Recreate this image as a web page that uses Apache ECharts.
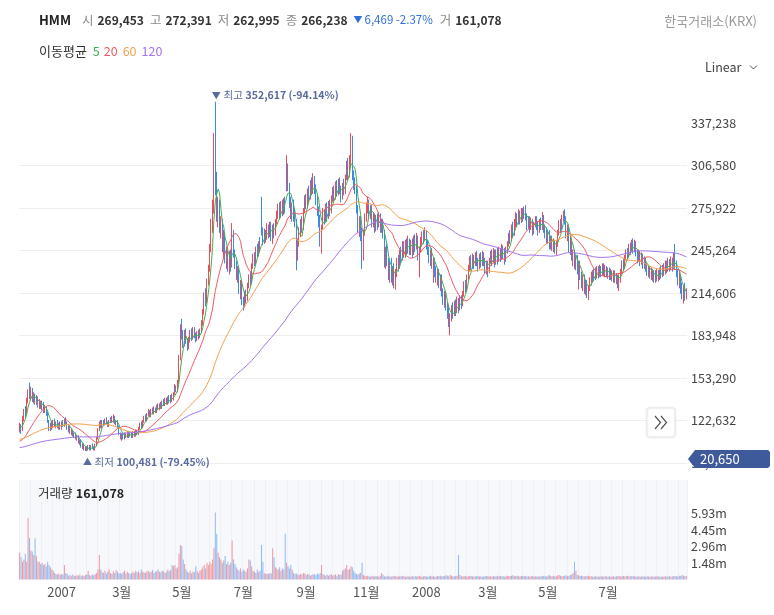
<!DOCTYPE html>
<html>
<head>
<meta charset="utf-8">
<script src="https://cdn.jsdelivr.net/npm/echarts@6/dist/echarts.min.js"></script>
<style>
html, body { margin: 0; padding: 0; background: #fff; }
#chart { width: 774px; height: 615px; }
</style>
</head>
<body>
<div id="chart"></div>
<script>
// daily candles in thousands of KRW: [open, close, low, high]
const candles = [
  [117,119,114,121],[119,116,113,120],[116,124,115,126],[124,130,122,131],[130,128,125,133],[128,137,127,139],[137,143,135,145],[143,140,138,150],[140,144,137,147],[144,138,136,146],
  [138,141,135,143],[141,136,134,142],[136,139,134,141],[139,134,132,140],[134,136,131,138],[136,133,131,137],[133,135,130,137],[135,130,128,136],[130,132,128,134],[132,128,126,133],
  [128,122,121,129],[122,117,115,123],[117,120,115,121],[120,118,116,122],[118,122,117,123],[122,119,118,124],[119,121,117,122],[121,118,117,123],[118,120,116,121],[120,117,116,122],
  [117,121,116,122],[121,119,118,123],[119,123,118,124],[123,121,120,125],[121,117,116,122],[117,118,114,119],[118,114,113,119],[114,115,112,117],[115,112,111,116],[112,113,110,114],
  [113,110,109,114],[110,111,108,112],[111,107,106,112],[107,108,105,109],[108,104,103,109],[104,105,102,106],[105,102,101,106],[102,103,100.481,104],[103,101,100.6,104],[101,104,101,105],
  [104,102,101,105],[102,104,101,105],[104,103,102,106],[103,101,101,104],[101,105,101,106],[105,110,104,111],[110,116,109,117],[116,121,115,122],[121,118,117,123],[118,122,117,123],
  [122,120,119,123],[120,123,119,124],[123,121,120,125],[121,119,118,122],[119,122,118,123],[122,124,121,125],[124,122,121,126],[122,125,121,127],[125,121,120,126],[121,122,119,123],
  [122,118,117,123],[118,113,112,119],[113,110,109,114],[110,112,108,113],[112,110,109,114],[110,113,109,114],[113,111,110,114],[111,114,110,115],[114,112,110,115],[112,113,111,114],
  [113,111,110,114],[111,114,110,115],[114,112,111,115],[112,115,111,116],[115,113,112,116],[113,117,112,118],[117,120,116,121],[120,118,117,122],[118,122,117,123],[122,125,121,126],
  [125,123,122,127],[123,127,122,128],[127,129,126,131],[129,126,125,130],[126,130,125,131],[130,128,127,132],[128,131,127,133],[131,129,128,132],[129,133,128,134],[133,131,130,135],
  [131,134,130,135],[134,132,131,136],[132,136,131,137],[136,134,133,138],[134,137,133,139],[137,135,134,139],[135,139,134,140],[139,136,135,141],[136,140,135,141],[140,138,136,142],
  [138,142,137,143],[142,147,141,149],[147,144,143,148],[144,150,143,152],[150,168,149,170],[168,190,166,192],[190,184,181,196],[184,178,175,188],[178,186,176,188],[186,180,178,189],
  [180,175,173,182],[175,181,174,183],[181,186,179,188],[186,182,180,189],[182,188,181,190],[188,184,182,190],[184,181,179,186],[181,185,180,187],[185,183,181,188],[183,187,182,189],
  [187,193,186,195],[193,200,191,203],[200,212,199,215],[212,208,205,218],[208,222,207,225],[222,232,220,235],[232,246,230,250],[246,262,244,268],[262,276,258,282],[276,322,272,330],
  [322,298,285,352.617],[298,272,266,302],[272,280,262,284],[280,262,258,282],[262,266,254,270],[266,248,244,268],[248,256,240,260],[256,240,236,258],[240,244,232,248],[244,236,230,246],
  [236,242,228,245],[242,234,230,246],[234,258,233,265],[258,244,240,260],[244,236,232,246],[236,228,224,238],[228,232,222,234],[232,218,214,233],[218,222,210,224],[222,210,206,224],
  [210,206,202,212],[206,214,204,216],[214,210,207,217],[210,220,209,222],[220,226,218,228],[226,222,220,230],[222,234,221,236],[234,240,232,243],[240,236,234,244],[236,246,235,248],
  [246,242,240,250],[242,250,241,252],[250,247,244,255],[282,260,256,284],[260,252,249,262],[252,258,250,261],[258,254,251,260],[254,262,253,265],[262,256,254,264],[256,264,255,266],
  [264,256,252,266],[256,262,250,264],[262,258,254,265],[258,266,256,268],[266,270,264,274],[270,276,268,279],[276,271,268,280],[271,278,269,281],[278,273,270,282],[273,280,271,283],
  [280,276,272,284],[289,312,288,314],[306,292,288,308],[292,280,276,294],[280,272,268,284],[272,278,266,280],[278,270,266,282],[270,266,262,276],[266,240,231,268],[240,252,238,254],
  [252,258,248,262],[258,266,255,268],[266,262,258,270],[262,274,260,276],[274,282,272,285],[282,278,275,286],[278,288,276,290],[288,284,280,292],[284,293,282,296],[293,288,285,298],
  [288,296,286,301],[296,290,286,299],[290,282,278,293],[282,274,270,285],[274,268,262,277],[268,250,248,271],[248,262,243,264],[262,272,260,276],[272,268,264,275],[268,276,266,279],
  [276,270,266,280],[270,278,268,281],[278,274,270,282],[274,282,272,285],[282,288,280,291],[288,284,281,292],[284,292,282,295],[292,287,284,296],[287,294,285,297],[294,289,286,298],
  [289,284,280,292],[284,292,282,294],[292,288,285,297],[288,298,286,300],[298,306,296,310],[306,300,296,312],[300,310,298,314],[310,326,306,330],[326,300,296,328],[300,294,289,303],
  [294,290,286,298],[290,276,272,292],[276,262,258,278],[262,268,255,270],[268,260,252,270],[260,240,232,262],[240,258,238,260],[258,270,256,272],[270,276,266,280],[276,280,272,284],
  [280,272,268,282],[272,276,268,278],[276,266,262,278],[266,270,262,273],[270,262,258,272],[262,268,259,271],[268,264,260,272],[264,270,262,273],[270,262,258,272],[262,266,258,268],
  [266,258,254,268],[258,236,233,260],[236,246,232,248],[246,238,234,250],[238,228,224,240],[228,236,222,238],[236,226,222,240],[226,232,220,234],[232,224,218,236],[224,230,217,232],
  [230,238,226,240],[238,234,230,242],[234,244,232,246],[244,240,236,248],[240,248,238,252],[248,244,240,252],[244,250,240,253],[250,246,242,254],[246,252,243,256],[252,246,242,254],
  [246,250,242,253],[250,244,240,254],[244,252,242,256],[252,248,244,257],[248,254,246,258],[254,240,238,256],[234,246,226,248],[246,252,244,255],[252,256,248,259],[256,254,250,260],
  [254,258,252,262],[258,250,246,260],[250,246,242,253],[246,240,236,248],[240,244,234,246],[244,236,232,247],[228,238,222,240],[238,230,226,240],[230,226,222,234],[226,230,220,232],
  [230,222,218,232],[222,226,216,228],[226,216,212,228],[216,210,206,218],[210,214,204,216],[214,206,202,216],[206,200,196,208],[200,192,190,206],[188,198,184,200],[198,204,194,206],
  [204,200,196,208],[200,206,198,209],[206,202,198,210],[202,208,200,212],[208,204,200,211],[204,210,202,213],[210,206,203,213],[206,214,205,216],[214,220,212,223],[220,218,215,224],
  [218,226,216,228],[226,232,224,235],[232,238,230,241],[238,234,231,242],[234,240,232,243],[240,236,232,242],[236,242,234,244],[242,238,234,245],[238,234,230,240],[234,240,232,243],
  [240,236,233,244],[236,242,234,245],[242,238,234,244],[238,232,229,240],[232,236,228,238],[236,230,226,238],[230,238,229,240],[238,242,236,245],[242,238,234,246],[238,244,236,247],
  [244,237,233,246],[237,243,235,246],[243,239,235,247],[239,245,237,248],[245,241,237,247],[241,247,239,250],[247,243,239,249],[243,239,235,247],[239,245,237,248],[245,249,243,252],
  [249,256,248,258],[256,254,250,260],[254,262,252,264],[262,258,255,266],[258,264,256,268],[264,270,262,273],[270,266,262,272],[266,272,264,275],[272,268,264,274],[268,273,265,276],
  [273,270,266,276],[270,274,268,277],[274,271,267,278],[271,264,260,272],[264,268,261,270],[268,262,258,270],[262,266,260,269],[266,260,256,268],[260,264,257,266],[264,268,262,270],
  [268,264,260,270],[264,260,256,266],[260,266,258,268],[266,262,260,269],[262,270,260,273],[270,262,258,271],[262,258,254,264],[258,254,250,262],[254,258,250,260],[258,250,246,260],
  [250,254,246,256],[254,248,245,256],[248,252,244,254],[252,246,243,253],[246,250,242,252],[250,258,248,260],[258,264,256,267],[264,262,258,268],[262,268,260,271],[268,272,266,274],
  [272,268,264,275],[268,258,254,270],[258,262,252,264],[262,248,244,264],[248,252,242,256],[252,240,238,254],[240,244,234,246],[244,236,232,246],[236,240,231,242],[240,232,228,242],
  [224,236,217,238],[236,228,224,238],[228,222,218,230],[222,226,216,228],[226,218,214,228],[218,222,213,224],[222,214,211,224],[214,218,209.5,220],[218,224,216,226],[224,228,220,230],
  [228,226,222,231],[226,230,223,232],[230,227,224,233],[227,231,225,234],[231,228,225,234],[228,232,226,235],[232,229,226,234],[229,233,227,236],[233,230,227,236],[230,232,226,235],
  [232,229,226,234],[229,231,225,233],[231,227,224,233],[227,230,224,232],[230,226,223,231],[226,229,222,231],[229,225,222,231],[225,227,221,229],[227,222,218,228],[222,226,216,228],
  [226,230,222,232],[230,236,228,238],[236,234,231,239],[234,240,232,242],[240,244,238,246],[244,242,239,247],[242,248,240,250],[248,246,242,251],[246,250,244,253],[250,246,243,254],
  [246,250,244,253],[250,244,241,252],[244,240,236,246],[240,244,237,246],[244,238,234,245],[238,242,235,244],[242,236,232,243],[236,238,232,241],[238,234,230,240],[234,230,227,236],
  [230,233,226,235],[233,228,225,234],[228,231,224,233],[231,226,223,232],[226,229,222,231],[229,225,222,231],[225,230,223,232],[230,226,223,231],[226,231,224,233],[231,228,225,234],
  [228,233,226,235],[233,230,227,236],[230,236,228,238],[236,232,229,238],[232,237,230,240],[237,233,230,239],[233,238,231,241],[238,234,230,240],[234,240,232,244],[240,236,232,250],
  [236,230,226,238],[230,224,220,232],[224,226,218,230],[226,218,214,228],[218,214,210,222],[214,218,207,220],[218,212,209,222],[212,215,210,218]
]

// daily volume, unit: 10k shares
const volumes = [
  240,200,160,180,230,160,550,370,260,250, 220,370,210,160,160,140,150,130,140,120,
  160,130,110,90,80,60,50,45,55,40, 50,45,130,60,50,35,40,30,45,35,
  30,40,35,45,30,38,32,40,45,80, 40,35,45,38,50,60,90,220,90,70,
  60,80,55,70,90,60,50,75,60,85, 70,55,60,50,65,80,55,70,60,50,
  55,70,60,80,65,75,60,90,70,65, 60,75,80,65,70,85,60,70,75,90,
  70,65,80,75,60,70,90,75,85,130, 120,130,100,110,230,310,300,180,140,90,
  70,60,80,55,70,65,120,75,60,80, 90,110,130,100,150,130,160,140,180,280,
  600,410,240,200,180,150,170,210,140,160, 130,150,350,180,140,110,90,80,100,70,
  90,80,70,100,180,170,120,80,70,60, 90,70,80,310,160,60,50,55,50,60,
  55,280,200,110,100,90,110,80,100,90, 410,150,120,100,130,90,60,50,55,45,
  40,50,45,60,55,40,50,45,35,40, 50,45,40,55,45,60,130,50,40,35,
  45,35,40,50,35,40,45,30,50,40, 45,80,90,100,130,85,95,120,110,80,
  60,50,45,55,60,150,40,35,30,35, 30,25,35,30,28,32,30,25,35,60,
  40,30,25,35,28,30,25,30,35,28, 30,25,32,28,35,30,25,28,30,26,
  28,30,25,32,27,30,35,28,25,30, 32,28,25,30,35,28,30,25,28,32,
  30,35,28,32,30,38,35,30,42,35, 30,28,32,35,220,40,30,28,32,30,
  28,30,35,32,28,30,25,32,30,28, 30,25,28,32,30,35,28,30,25,32,
  30,28,35,30,32,28,30,25,30,35, 32,30,35,38,30,32,35,30,28,32,
  35,30,32,28,30,25,32,30,28,30, 28,30,25,32,30,35,30,28,35,40,
  32,30,35,28,30,38,40,35,30,32, 35,38,30,32,40,45,60,160,80,40,
  38,32,35,30,28,32,30,35,28,30, 25,28,30,26,28,25,30,28,26,30,
  28,25,30,26,28,30,25,28,32,30, 28,30,32,28,30,35,30,28,32,30,
  30,28,26,30,28,25,30,28,26,30, 28,26,30,25,28,26,30,28,25,28,
  26,28,30,25,28,30,26,28,32,30, 30,28,35,32,40,35,30,32
]

const firstDay = [2006, 10, 20]
const maPeriods = [5, 20, 60, 120]
// level of each average just before the first visible day (thousands)
const maSeeds = [117, 107, 109, 103]
const maColors = ['#43ad4d', '#ef5b63', '#f2a14d', '#a374ec']
const priceStep = 30658
const volStep = 1482000
const upColor = '#ea4d59'
const downColor = '#3b8aea'
const font = "'Noto Sans CJK KR', 'Noto Sans', sans-serif"

const dates = []
let d = new Date(Date.UTC(firstDay[0], firstDay[1], firstDay[2]))
while (dates.length < candles.length) {
    const wd = d.getUTCDay()
    if (wd !== 0 && wd !== 6) dates.push(d.toISOString().slice(0, 10))
    d = new Date(d.getTime() + 86400000)
}

function calcMA (n, seed) {
    const out = []
    for (let i = 0; i < candles.length; i++) {
        let sum = 0
        for (let j = i - n + 1; j <= i; j++) sum += j < 0 ? seed : candles[j][1]
        out.push(Math.round(sum / n * 1000))
    }
    return out
}

function showMonth (i) {
    if (i === 0 || i > 460) return false
    const m = +dates[i].slice(5, 7)
    return m !== +dates[i - 1].slice(5, 7) && m % 2 === 1
}

const kData = candles.map(c => c.map(v => Math.round(v * 1000)))
const volData = volumes.map((v, i) => ({
    value: v * 10000,
    itemStyle: { color: candles[i][1] >= candles[i][0] ? 'rgba(234,77,89,0.55)' : 'rgba(59,138,234,0.55)' }
}))

const maSeries = maPeriods.map((n, k) => ({
    name: 'MA' + n,
    type: 'line',
    data: calcMA(n, maSeeds[k]),
    showSymbol: false,
    silent: true,
    z: 3,
    lineStyle: { width: 1, color: maColors[k] },
    itemStyle: { color: maColors[k] }
}))

const splitColors = ['rgba(0,0,0,0)']
for (let i = 1; i <= 8; i++) splitColors.push('#efefef')
splitColors.push('rgba(0,0,0,0)', 'rgba(0,0,0,0)')

const markLabel = {
    show: true,
    color: '#5a6a9c',
    fontFamily: font,
    align: 'left',
    verticalAlign: 'middle',
    rich: {
        t: { fontSize: 9, color: '#5a6a9c', fontFamily: font },
        k: { fontSize: 10.5, color: '#5a6a9c', fontFamily: font },
        v: { fontSize: 10.5, fontWeight: 'bold', color: '#5a6a9c', fontFamily: font }
    }
}

const option = {
    animation: false,
    backgroundColor: '#fff',
    textStyle: { fontFamily: font },
    grid: [
        { left: 19, right: 87, top: 80.5, height: 425 },
        { left: 19, right: 87, top: 480, height: 99.6, show: true, backgroundColor: '#f7f8fc', borderWidth: 0 }
    ],
    xAxis: [
        {
            type: 'category',
            data: dates,
            gridIndex: 0,
            axisLine: { show: false },
            axisTick: { show: false },
            axisLabel: { show: false },
            splitLine: { show: false }
        },
        {
            type: 'category',
            data: dates,
            gridIndex: 1,
            axisLine: { show: false },
            axisTick: { show: false },
            axisLabel: {
                color: '#555',
                fontSize: 13,
                margin: 6,
                fontFamily: font,
                interval: (i) => showMonth(i),
                formatter: (v) => {
                    const m = +v.slice(5, 7)
                    return m === 1 ? v.slice(0, 4) : m + '월'
                }
            },
            splitLine: { show: true, interval: 7, lineStyle: { color: '#eff0f6', width: 1 } }
        }
    ],
    yAxis: [
        {
            type: 'value',
            gridIndex: 0,
            position: 'right',
            min: priceStep * 2,
            max: priceStep * 12,
            interval: priceStep,
            axisLine: { show: false },
            axisTick: { show: false },
            axisLabel: {
                color: '#444',
                fontSize: 12.5,
                margin: 4,
                fontFamily: font,
                formatter: (v) => (v < priceStep * 2.5 || v > priceStep * 11.5) ? '' : v.toLocaleString('en-US')
            },
            splitLine: { show: true, lineStyle: { color: splitColors, width: 1 } }
        },
        {
            type: 'value',
            gridIndex: 1,
            position: 'right',
            min: 0,
            max: volStep * 6,
            interval: volStep,
            axisLine: { show: false },
            axisTick: { show: false },
            splitLine: { show: false },
            axisLabel: {
                color: '#444',
                fontSize: 12.5,
                margin: 4,
                fontFamily: font,
                formatter: (v) => (v > 0 && v < volStep * 4.5) ? (v / 1e6).toFixed(2) + 'm' : ''
            }
        }
    ],
    series: [
        {
            name: 'HMM',
            type: 'candlestick',
            data: kData,
            xAxisIndex: 0,
            yAxisIndex: 0,
            barMaxWidth: 3,
            z: 2,
            itemStyle: {
                color: upColor,
                color0: downColor,
                borderColor: upColor,
                borderColor0: downColor,
                borderWidth: 1
            },
            markPoint: {
                symbol: 'circle',
                symbolSize: 1,
                itemStyle: { color: 'rgba(0,0,0,0)' },
                data: [
                    {
                        coord: [140, 352617],
                        label: Object.assign({}, markLabel, {
                            position: [-3, -6],
                            formatter: '{t|▼} {k|최고} {v|352,617 (-94.14%)}'
                        })
                    },
                    {
                        coord: [47, 100481],
                        label: Object.assign({}, markLabel, {
                            position: [-2, 11],
                            formatter: '{t|▲} {k|최저} {v|100,481 (-79.45%)}'
                        })
                    }
                ]
            }
        },
        ...maSeries,
        {
            name: '거래량',
            type: 'bar',
            data: volData,
            xAxisIndex: 1,
            yAxisIndex: 1,
            barCategoryGap: '25%'
        }
    ],
    graphic: [
        {
            type: 'text',
            z: 100,
            x: 39,
            y: 20,
            style: {
                text: '{n|HMM}{g|시}{b|269,453}{g|고}{b|272,391}{g|저}{b|262,995}{g|종}{b|266,238}{d|▼}{u|6,469 -2.37%}{g|거}{b|161,078}',
                verticalAlign: 'middle',
                rich: {
                    n: { fontSize: 13, fontWeight: 'bold', fill: '#222', fontFamily: font, padding: [0, 11, 0, 0] },
                    g: { fontSize: 12.5, fill: '#8a8a8a', fontFamily: font, padding: [0, 4, 0, 0] },
                    b: { fontSize: 12, fontWeight: 'bold', fill: '#333', fontFamily: font, padding: [0, 6, 0, 0] },
                    d: { fontSize: 9, fill: '#2f6fd8', fontFamily: font, padding: [0, 2, 0, 0] },
                    u: { fontSize: 11.5, fill: '#2f6fd8', fontFamily: font, padding: [0, 7, 0, 0] }
                }
            }
        },
        {
            type: 'text',
            z: 100,
            x: 757,
            y: 21,
            style: { text: '한국거래소(KRX)', align: 'right', verticalAlign: 'middle', fill: '#999', font: '13px ' + font }
        },
        {
            type: 'text',
            z: 100,
            x: 39,
            y: 51,
            style: {
                text: '{t|이동평균}{a|5}{b|20}{c|60}{e|120}',
                verticalAlign: 'middle',
                rich: {
                    t: { fontSize: 13, fill: '#333', fontFamily: font, padding: [0, 6, 0, 0] },
                    a: { fontSize: 12.5, fill: maColors[0], fontFamily: font, padding: [0, 4, 0, 0] },
                    b: { fontSize: 12.5, fill: maColors[1], fontFamily: font, padding: [0, 5, 0, 0] },
                    c: { fontSize: 12.5, fill: maColors[2], fontFamily: font, padding: [0, 5, 0, 0] },
                    e: { fontSize: 12.5, fill: maColors[3], fontFamily: font }
                }
            }
        },
        {
            type: 'text',
            z: 100,
            x: 705,
            y: 67,
            style: { text: 'Linear', verticalAlign: 'middle', fill: '#444', font: '12.5px ' + font }
        },
        {
            type: 'polyline',
            z: 100,
            shape: { points: [[750, 65.5], [753.5, 69], [757, 65.5]] },
            style: { stroke: '#555', lineWidth: 1, fill: null }
        },
        {
            type: 'text',
            z: 100,
            x: 38,
            y: 493,
            style: {
                text: '{k|거래량} {v|161,078}',
                verticalAlign: 'middle',
                rich: {
                    k: { fontSize: 12.5, fill: '#333', fontFamily: font },
                    v: { fontSize: 12.5, fontWeight: 'bold', fill: '#222', fontFamily: font }
                }
            }
        },
        {
            type: 'rect',
            z: 100,
            shape: { x: 647, y: 408, width: 28, height: 29, r: 2 },
            style: { fill: '#fff', stroke: '#e4e6eb', lineWidth: 1, shadowBlur: 3, shadowColor: 'rgba(0,0,0,0.08)' }
        },
        {
            type: 'polyline',
            z: 101,
            shape: { points: [[655, 416], [660.5, 422.5], [655, 429]] },
            style: { stroke: '#555', lineWidth: 1.2, fill: null }
        },
        {
            type: 'polyline',
            z: 101,
            shape: { points: [[661, 416], [666.5, 422.5], [661, 429]] },
            style: { stroke: '#555', lineWidth: 1.2, fill: null }
        },
        {
            type: 'polygon',
            z: 100,
            shape: { points: [[688, 459], [695, 450], [768, 450], [770, 452], [770, 466], [768, 468], [695, 468]] },
            style: { fill: '#3f5a9b' }
        },
        {
            type: 'text',
            z: 101,
            x: 700,
            y: 459,
            style: { text: '20,650', verticalAlign: 'middle', fill: '#fff', font: '13px ' + font }
        }
    ]
}

const chart = echarts.init(document.getElementById('chart'))
chart.setOption(option)
window.addEventListener('resize', () => {
    setTimeout(function () {
        chart.resize()
    }, 100)
})
</script>
</body>
</html>
